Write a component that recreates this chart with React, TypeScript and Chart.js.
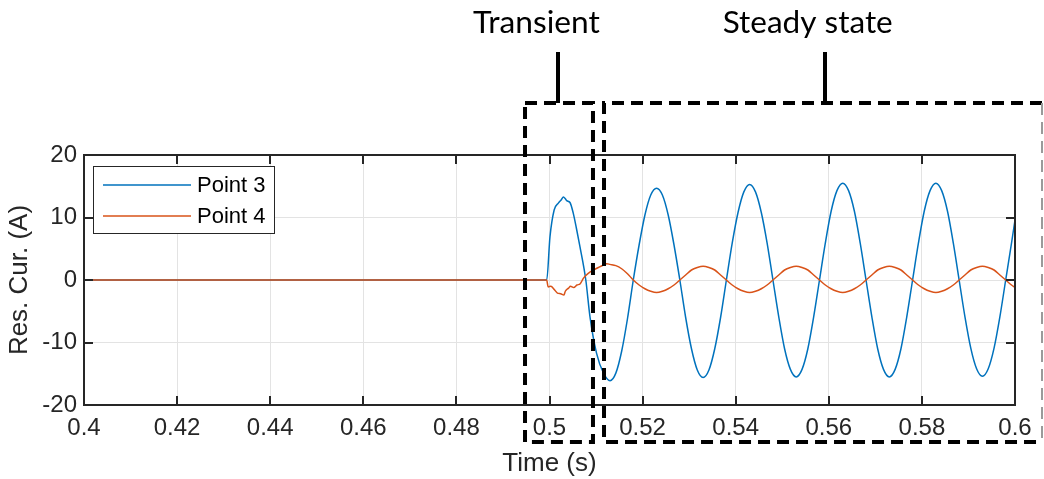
import React, { useEffect, useRef } from "react";
import { Chart, registerables } from "chart.js";

Chart.register(...registerables);

// ---------- axis ticks ----------
const xTickValues = [0.4, 0.42, 0.44, 0.46, 0.48, 0.5, 0.52, 0.54, 0.56, 0.58, 0.6];
const xTickLabels = ["0.4", "0.42", "0.44", "0.46", "0.48", "0.5", "0.52", "0.54", "0.56", "0.58", "0.6"];
const yTickValues = [-20, -10, 0, 10, 20];
const yTickLabels = ["-20", "-10", "0", "10", "20"];

const seriesNames = ["Point 3", "Point 4"];
const seriesColors = ["#0072BD", "#D95319"];

// ---------- transient part (s, A) ----------
const timeP3Transient = [0.4, 0.4994, 0.5001, 0.501, 0.5019, 0.5025, 0.503, 0.5034, 0.5037, 0.5044, 0.5051, 0.5058, 0.50655, 0.5078, 0.5087, 0.5101, 0.5116];
const point3Transient = [0, 0, 6.9, 11.2, 12.3, 12.8, 13.3, 13.0, 12.7, 12.4, 10.7, 8.2, 5.3, 0, -5.9, -11.7, -14.9];

const timeP4Transient = [0.4, 0.4994, 0.4997, 0.5003, 0.501, 0.5017, 0.5024, 0.5031, 0.5034, 0.5041, 0.5045, 0.5052, 0.5059, 0.5066, 0.5073, 0.5084, 0.5095, 0.5105, 0.5116, 0.5123];
const point4Transient = [0, 0, -1.1, -1.0, -1.5, -2.1, -2.2, -2.4, -1.8, -1.3, -1.0, -1.2, -0.8, -0.6, 0.3, 1.1, 1.6, 2.0, 2.4, 2.6];

// ---------- steady-state part (s, A) ----------
const timeSteady = [
  0.513, 0.51425, 0.5155, 0.51675, 0.518, 0.51925, 0.5205, 0.52175,
  0.523, 0.52425, 0.5255, 0.52675, 0.528, 0.52925, 0.5305, 0.53175,
  0.533, 0.53425, 0.5355, 0.53675, 0.538, 0.53925, 0.5405, 0.54175,
  0.543, 0.54425, 0.5455, 0.54675, 0.548, 0.54925, 0.5505, 0.55175,
  0.553, 0.55425, 0.5555, 0.55675, 0.558, 0.55925, 0.5605, 0.56175,
  0.563, 0.56425, 0.5655, 0.56675, 0.568, 0.56925, 0.5705, 0.57175,
  0.573, 0.57425, 0.5755, 0.57675, 0.578, 0.57925, 0.5805, 0.58175,
  0.583, 0.58425, 0.5855, 0.58675, 0.588, 0.58925, 0.5905, 0.59175,
  0.593, 0.59425, 0.5955, 0.59675, 0.598, 0.59925, 0.6,
];
const point3Steady = [
  -16.1, -14.9, -11.4, -6.2, 0, 5.6, 10.4, 13.6,
  14.7, 13.6, 10.4, 5.6, 0, -6.0, -11.0, -14.4,
  -15.6, -14.4, -11.0, -6.0, 0, 5.9, 10.8, 14.1,
  15.3, 14.1, 10.8, 5.9, 0, -5.9, -11.0, -14.3,
  -15.5, -14.3, -11.0, -5.9, 0, 5.9, 11.0, 14.3,
  15.5, 14.3, 11.0, 5.9, 0, -5.9, -11.0, -14.3,
  -15.5, -14.3, -11.0, -5.9, 0, 5.9, 11.0, 14.3,
  15.5, 14.3, 11.0, 5.9, 0, -5.9, -10.9, -14.2,
  -15.4, -14.2, -10.9, -5.9, 0, 5.9, 9.6,
];
const point4Steady = [
  2.5, 2.3, 1.8, 1.0, 0, -0.8, -1.4, -1.8,
  -2.0, -1.8, -1.4, -0.8, 0, 0.8, 1.6, 2.0,
  2.2, 2.0, 1.6, 0.8, 0, -0.8, -1.4, -1.8,
  -2.0, -1.8, -1.4, -0.8, 0, 0.8, 1.6, 2.0,
  2.2, 2.0, 1.6, 0.8, 0, -0.8, -1.4, -1.8,
  -2.0, -1.8, -1.4, -0.8, 0, 0.8, 1.6, 2.0,
  2.2, 2.0, 1.6, 0.8, 0, -0.8, -1.4, -1.8,
  -2.0, -1.8, -1.4, -0.8, 0, 0.8, 1.6, 2.0,
  2.2, 2.0, 1.6, 0.8, 0, -0.8, -1.2,
];

// ---------- annotation regions (in seconds) ----------
const regionLabels = ["Transient", "Steady state"];
const transientSpan = [0.49474, 0.50934];
const steadySpan = [0.51171, 0.6058];
const bracketTimes = [0.50183, 0.55918];

function pairs(t: number[], v: number[]) {
  return t.map((x, i) => ({ x, y: v[i] }));
}

const FONT = '"Liberation Sans", Arial, Helvetica, sans-serif';
const AXIS_COLOR = "#262626";

const decorPlugin = {
  id: "decor",
  afterDatasetsDraw(chart: any) {
    const { ctx, chartArea } = chart;
    const { left, right, top, bottom } = chartArea;
    const xs = chart.scales.x;
    const ys = chart.scales.y;
    ctx.save();
    // frame
    ctx.strokeStyle = AXIS_COLOR;
    ctx.lineWidth = 2;
    ctx.strokeRect(left, top, right - left, bottom - top);
    // inward ticks
    const tl = 9;
    ctx.beginPath();
    xTickValues.forEach((v) => {
      const px = Math.round(xs.getPixelForValue(v));
      ctx.moveTo(px, bottom);
      ctx.lineTo(px, bottom - tl);
      ctx.moveTo(px, top);
      ctx.lineTo(px, top + tl);
    });
    yTickValues.forEach((v) => {
      const py = Math.round(ys.getPixelForValue(v));
      ctx.moveTo(left, py);
      ctx.lineTo(left + tl, py);
      ctx.moveTo(right, py);
      ctx.lineTo(right - tl, py);
    });
    ctx.stroke();

    // legend
    const lx = 93.5, ly = 166.5, lw = 181, lh = 67;
    ctx.fillStyle = "#ffffff";
    ctx.fillRect(lx, ly, lw, lh);
    ctx.lineWidth = 1;
    ctx.strokeStyle = AXIS_COLOR;
    ctx.strokeRect(lx, ly, lw, lh);
    const rows = [185, 216];
    seriesNames.forEach((name, i) => {
      ctx.strokeStyle = seriesColors[i];
      ctx.lineWidth = 1.5;
      ctx.beginPath();
      ctx.moveTo(103, rows[i]);
      ctx.lineTo(191, rows[i]);
      ctx.stroke();
      ctx.fillStyle = "#000000";
      ctx.font = `22px ${FONT}`;
      ctx.textBaseline = "middle";
      ctx.textAlign = "left";
      ctx.fillText(name, 197, rows[i] + 1);
    });
    ctx.restore();
  },
  afterDraw(chart: any) {
    const { ctx } = chart;
    const xs = chart.scales.x;
    ctx.save();
    const yTop = 103;
    const yBot = 442;
    const tL = xs.getPixelForValue(transientSpan[0]);
    const tR = xs.getPixelForValue(transientSpan[1]);
    const sL = xs.getPixelForValue(steadySpan[0]);
    const sR = xs.getPixelForValue(steadySpan[1]);
    ctx.strokeStyle = "#000000";
    ctx.lineWidth = 4;
    ctx.setLineDash([12, 7]);
    ctx.strokeRect(tL, yTop, tR - tL, yBot - yTop);
    ctx.beginPath();
    ctx.moveTo(sR, yTop);
    ctx.lineTo(sL, yTop);
    ctx.lineTo(sL, yBot);
    ctx.lineTo(sR, yBot);
    ctx.stroke();
    ctx.strokeStyle = "#9a9a9a";
    ctx.lineWidth = 2;
    ctx.beginPath();
    ctx.moveTo(sR, yTop);
    ctx.lineTo(sR, yBot);
    ctx.stroke();
    ctx.setLineDash([]);
    // brackets
    ctx.strokeStyle = "#000000";
    ctx.lineWidth = 4;
    ctx.beginPath();
    bracketTimes.forEach((t) => {
      const px = Math.round(xs.getPixelForValue(t));
      ctx.moveTo(px, 52);
      ctx.lineTo(px, yTop);
    });
    ctx.stroke();
    // labels
    const centers = [536.5, 807.7];
    const widths = [127, 170];
    ctx.fillStyle = "#000000";
    ctx.textAlign = "center";
    ctx.textBaseline = "alphabetic";
    regionLabels.forEach((txt, i) => {
      ctx.font = `30px Lato, "Open Sans", sans-serif`;
      const w = ctx.measureText(txt).width;
      const size = (30 * widths[i]) / w;
      ctx.font = `${size.toFixed(1)}px Lato, "Open Sans", sans-serif`;
      ctx.fillText(txt, centers[i], 33);
    });
    ctx.restore();
  },
};

export default function App() {
  const canvasRef = useRef<HTMLCanvasElement | null>(null);

  useEffect(() => {
    document.body.style.margin = "0";
    const canvas = canvasRef.current;
    if (!canvas) return;
    const chart = new Chart(canvas, {
      type: "line",
      data: {
        datasets: [
          {
            label: seriesNames[0],
            data: pairs(timeP3Transient.concat(timeSteady), point3Transient.concat(point3Steady)),
            borderColor: seriesColors[0],
            borderWidth: 1.5,
            pointRadius: 0,
            cubicInterpolationMode: "monotone",
            order: 1,
          },
          {
            label: seriesNames[1],
            data: pairs(timeP4Transient.concat(timeSteady), point4Transient.concat(point4Steady)),
            borderColor: seriesColors[1],
            borderWidth: 1.5,
            pointRadius: 0,
            cubicInterpolationMode: "monotone",
            order: 0,
          },
        ],
      },
      options: {
        responsive: false,
        devicePixelRatio: 1,
        animation: false,
        parsing: false as any,
        layout: { padding: { left: 0, top: 155, right: 29, bottom: 0 } },
        plugins: { legend: { display: false }, tooltip: { enabled: false } },
        scales: {
          x: {
            type: "linear",
            min: 0.4,
            max: 0.6,
            afterFit: (s: any) => { s.height = 74; },
            afterBuildTicks: (s: any) => { s.ticks = xTickValues.map((v) => ({ value: v })); },
            ticks: {
              autoSkip: false,
              maxRotation: 0,
              padding: 9,
              color: AXIS_COLOR,
              font: { family: FONT, size: 24 },
              callback: (v: any) => xTickLabels[xTickValues.findIndex((t) => Math.abs(t - v) < 1e-9)] ?? "",
            },
            grid: { color: "#e3e3e3", lineWidth: 1, drawTicks: false },
            border: { display: false },
            title: {
              display: true,
              text: "Time (s)",
              color: AXIS_COLOR,
              font: { family: FONT, size: 26 },
              padding: { top: 0, bottom: 0 },
            },
          },
          y: {
            type: "linear",
            min: -20,
            max: 20,
            afterFit: (s: any) => { s.width = 84; },
            afterBuildTicks: (s: any) => { s.ticks = yTickValues.map((v) => ({ value: v })); },
            ticks: {
              padding: 7,
              color: AXIS_COLOR,
              font: { family: FONT, size: 24 },
              callback: (v: any) => yTickLabels[yTickValues.indexOf(Number(v))] ?? "",
            },
            grid: { color: "#e3e3e3", lineWidth: 1, drawTicks: false },
            border: { display: false },
            title: {
              display: true,
              text: "Res. Cur. (A)",
              color: AXIS_COLOR,
              font: { family: FONT, size: 26 },
              padding: { top: 4, bottom: 0 },
            },
          },
        },
      },
      plugins: [decorPlugin],
    });
    return () => chart.destroy();
  }, []);

  return (
    <div style={{ width: 1044, height: 479, background: "#ffffff" }}>
      <canvas ref={canvasRef} width={1044} height={479} style={{ display: "block" }} />
    </div>
  );
}
